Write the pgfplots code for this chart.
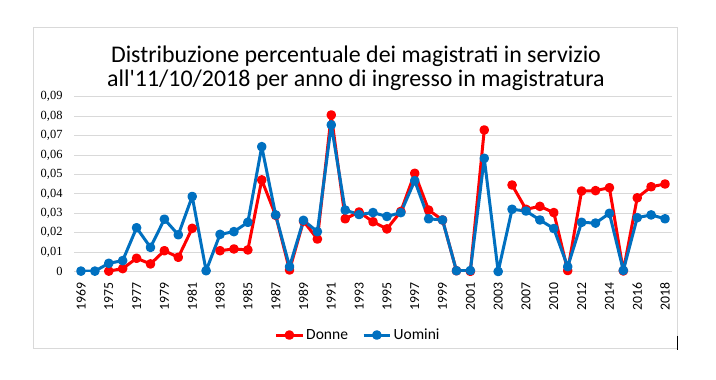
\documentclass[border=0pt]{standalone}
\usepackage{pgfplots}
\pgfplotsset{compat=1.18}
\usepackage{pgfplotstable}
\usepackage{fontspec}
\setmainfont{Carlito}[Ligatures=TeXOff]
\newfontfamily\serifnum{Liberation Serif}
\definecolor{gridgray}{HTML}{D9D9D9}
\definecolor{donne}{HTML}{FF0000}
\definecolor{uomini}{HTML}{0070C0}
\pgfplotstableread{
cat donne uomini
0 nan 0.0003
1 nan 0.0003
2 0.0003 0.0043
3 0.0016 0.0057
4 0.0069 0.0226
5 0.0040 0.0125
6 0.0108 0.0270
7 0.0074 0.0190
8 0.0223 0.0387
9 nan 0.0005
10 0.0108 0.0192
11 0.0117 0.0206
12 0.0112 0.0254
13 0.0472 0.0643
14 0.0290 0.0292
15 0.0009 0.0026
16 0.0260 0.0264
17 0.0168 0.0206
18 0.0806 0.0755
19 0.0272 0.0317
20 0.0307 0.0294
21 0.0257 0.0304
22 0.0220 0.0284
23 0.0310 0.0304
24 0.0506 0.0468
25 0.0317 0.0272
26 0.0266 0.0266
27 0.0005 0.0005
28 0.0002 0.0006
29 0.0729 0.0583
30 nan 0.0001
31 0.0446 0.0321
32 0.0321 0.0312
33 0.0336 0.0266
34 0.0304 0.0222
35 0.0006 0.0026
36 0.0415 0.0254
37 0.0417 0.0250
38 0.0432 0.0300
39 0.0004 0.0007
40 0.0380 0.0278
41 0.0437 0.0292
42 0.0451 0.0272
}\datatable
\begin{document}
\begin{tikzpicture}
\useasboundingbox[fill=white] (0,0) rectangle (716bp,380bp);
\draw[gridgray, line width=1bp] (33bp,31bp) rectangle (677bp,352bp);
\draw[black, line width=1bp] (677bp,44bp) -- (677bp,30bp);
\node[anchor=base, font=\fontsize{24}{28}\selectfont] at (356bp,317.3bp) {Distribuzione percentuale dei magistrati in servizio};
\node[anchor=base, font=\fontsize{24}{28}\selectfont] at (356bp,293.3bp) {all'11/10/2018 per anno di ingresso in magistratura};
\begin{axis}[
  at={(74bp,108.3bp)}, anchor=south west,
  scale only axis, width=598bp, height=175bp,
  xmin=-0.5, xmax=42.5, ymin=0, ymax=0.09,
  axis line style={draw=none},
  tick style={draw=none},
  ymajorgrids, grid style={gridgray, line width=1bp},
  ytick={0,0.01,0.02,0.03,0.04,0.05,0.06,0.07,0.08,0.09},
  yticklabel style={font=\fontsize{12.5}{14}\serifnum\selectfont, /pgf/number format/.cd, use comma, fixed, precision=2, assume math mode=true},
  yticklabel shift=8bp,
  scaled y ticks=false,
  xtick={0,2,...,42},
  xticklabels={1969,1975,1977,1979,1981,1983,1985,1987,1989,1991,1993,1995,1997,1999,2001,2003,2007,2010,2012,2014,2016,2018},
  xticklabel style={rotate=90, anchor=east, font=\fontsize{13.8}{15}\selectfont},
  xticklabel shift=7bp,
  unbounded coords=jump,
  legend style={at={(0.475,-0.362)}, anchor=center, draw=none, legend columns=2, font=\fontsize{15.6}{17}\selectfont, /tikz/every even column/.append style={column sep=12bp}},
  legend image code/.code={\draw[mark repeat=2,mark phase=2] plot coordinates {(0cm,0cm) (0.47cm,0cm) (0.94cm,0cm)};},
]
\addplot[donne, line width=3bp, line join=round, mark=*, mark size=3.3bp, mark options={solid}] table[x=cat, y=donne] {\datatable};
\addlegendentry{Donne}
\addplot[uomini, line width=3bp, line join=round, mark=*, mark size=3.3bp, mark options={solid}] table[x=cat, y=uomini] {\datatable};
\addlegendentry{Uomini}
\end{axis}
\end{tikzpicture}
\end{document}
